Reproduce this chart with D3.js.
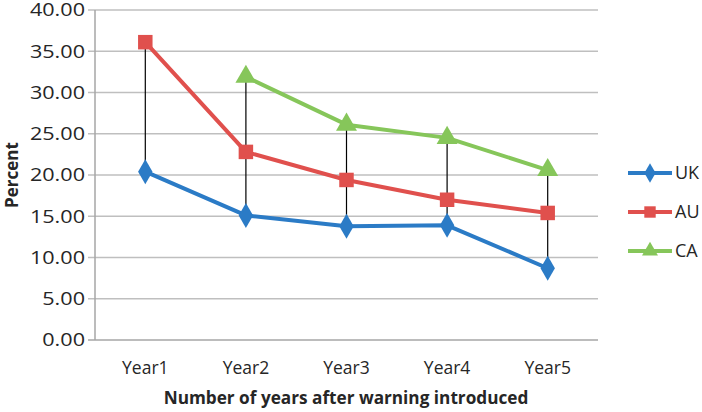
<!DOCTYPE html>
<html><head><meta charset="utf-8">
<script src="https://cdn.jsdelivr.net/npm/d3@7"></script>
<style>body{margin:0;background:#fff}text{font-family:"Open Sans",sans-serif;fill:#262626}</style>
</head><body><svg id="c" width="702" height="412"></svg>
<script>
const categories = ["Year1","Year2","Year3","Year4","Year5"];
const ukValues = [20.4, 15.1, 13.8, 13.9, 8.7];
const auValues = [36.1, 22.8, 19.4, 17.0, 15.4];
const caValues = [null, 31.9, 26.1, 24.5, 20.6];
const seriesNames = ["UK","AU","CA"];
const yTicks = [0,5,10,15,20,25,30,35,40];

const series = [
  {name:seriesNames[0], values:ukValues, color:"#2B7BC6", shape:"diamond"},
  {name:seriesNames[1], values:auValues, color:"#E0504D", shape:"square"},
  {name:seriesNames[2], values:caValues, color:"#86C65A", shape:"triangle"}
];
const svg = d3.select("#c");
const x = d3.scaleBand().domain(categories).range([95,598]);
const y = d3.scaleLinear().domain([0,40]).range([340,10]);
const cx = c => x(c) + x.bandwidth()/2;

// gridlines
svg.append("g").selectAll("line").data(yTicks).join("line")
  .attr("x1",88).attr("x2",598).attr("y1",d=>y(d)).attr("y2",d=>y(d))
  .attr("stroke",d=>d===0?"#a6a6a6":"#bfbfbf").attr("stroke-width",1.5);
svg.append("line").attr("x1",95).attr("x2",95).attr("y1",y(40)).attr("y2",y(0))
  .attr("stroke","#a6a6a6").attr("stroke-width",1.5);
// y tick labels
svg.append("g").selectAll("text").data(yTicks).join("text")
  .attr("transform",d=>`translate(85,${y(d)}) scale(1.2,1)`)
  .attr("dy","0.36em").attr("text-anchor","end")
  .attr("font-size",18).text(d=>d.toFixed(2));
// x labels
svg.append("g").selectAll("text").data(categories).join("text")
  .attr("x",d=>cx(d)).attr("y",368).attr("dy","0.35em").attr("text-anchor","middle")
  .attr("font-size",17.5).text(d=>d);
// titles
svg.append("text").attr("x",346).attr("y",398).attr("dy","0.35em").attr("text-anchor","middle")
  .attr("font-size",17.2).attr("font-weight","bold").text("Number of years after warning introduced");
svg.append("text").attr("transform","translate(12,175) rotate(-90)").attr("dy","0.35em")
  .attr("text-anchor","middle").attr("font-size",17).attr("font-weight","bold").text("Percent");

// high-low lines
svg.append("g").selectAll("line").data(categories).join("line")
  .attr("x1",d=>cx(d)).attr("x2",d=>cx(d))
  .attr("y1",(d,i)=>y(d3.max(series,s=>s.values[i])))
  .attr("y2",(d,i)=>y(d3.min(series,s=>s.values[i])))
  .attr("stroke","#000").attr("stroke-width",1.2);

const symFor = s => s.shape==="diamond" ? d3.symbol(d3.symbolDiamond,180)
  : s.shape==="square" ? d3.symbol(d3.symbolSquare,210) : d3.symbol(d3.symbolTriangle,190);
const line = d3.line().defined(d=>d.v!=null).x(d=>cx(d.c)).y(d=>y(d.v));
series.forEach(s=>{
  const pts = categories.map((c,i)=>({c, v:s.values[i]}));
  svg.append("path").datum(pts).attr("d",line).attr("fill","none")
    .attr("stroke",s.color).attr("stroke-width",4).attr("stroke-linejoin","round");
  svg.append("g").selectAll("path").data(pts.filter(p=>p.v!=null)).join("path")
    .attr("transform",p=>`translate(${cx(p.c)},${y(p.v)})`)
    .attr("d",symFor(s)).attr("fill",s.color);
});

// legend
const lg = svg.append("g");
series.forEach((s,i)=>{
  const ly = 173 + i*39;
  lg.append("line").attr("x1",628).attr("x2",672).attr("y1",ly).attr("y2",ly)
    .attr("stroke",s.color).attr("stroke-width",4);
  lg.append("path").attr("transform",`translate(650,${ly})`).attr("d",symFor(s).size(s.shape==="square"?130:110)).attr("fill",s.color);
  lg.append("text").attr("x",675).attr("y",ly).attr("dy","0.36em").attr("font-size",18).text(s.name);
});
</script></body></html>
